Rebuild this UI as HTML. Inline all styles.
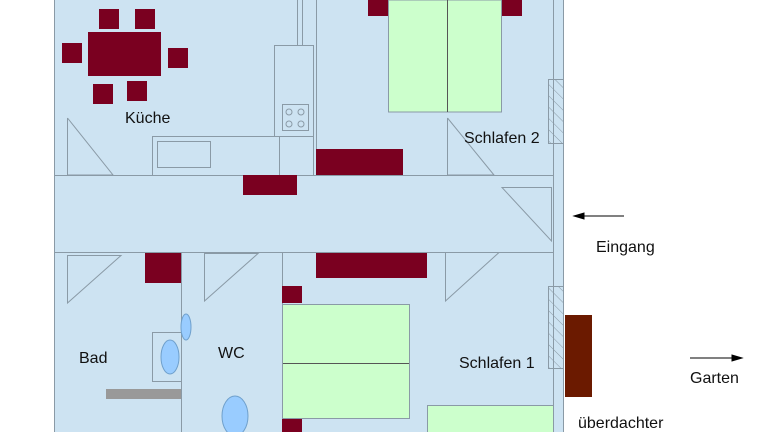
<!DOCTYPE html>
<html><head><style>body{margin:0;background:#fff}svg{display:block}</style></head><body>
<svg width="768" height="432" viewBox="0 0 768 432" xmlns="http://www.w3.org/2000/svg" font-family="Liberation Sans, sans-serif">
<defs><pattern id="h" width="8" height="8" patternUnits="userSpaceOnUse" patternTransform="rotate(-45)"><line x1="0" y1="0" x2="0" y2="8" stroke="#8a9aa6" stroke-width="1"/></pattern></defs>
<rect x="54" y="0" width="509" height="432" fill="#cde3f2"/>
<g stroke="#8a9aa6" stroke-width="1" fill="none">
<line x1="54.5" y1="0" x2="54.5" y2="432"/>
<line x1="553.5" y1="0" x2="553.5" y2="432"/>
<line x1="563.5" y1="0" x2="563.5" y2="432"/>
<line x1="54" y1="175.5" x2="553" y2="175.5"/>
<line x1="54" y1="252.5" x2="553" y2="252.5"/>
<line x1="316.5" y1="0" x2="316.5" y2="175"/>
<line x1="297.5" y1="0" x2="297.5" y2="45"/>
<line x1="302.5" y1="0" x2="302.5" y2="45"/>
<rect x="274.5" y="45.5" width="39" height="91"/>
<rect x="282.5" y="104.5" width="26" height="26"/>
<circle cx="289" cy="112" r="3"/><circle cx="301" cy="112" r="3"/><circle cx="289" cy="124" r="3"/><circle cx="301" cy="124" r="3"/>
<rect x="152.5" y="136.5" width="127" height="39"/>
<rect x="279.5" y="136.5" width="34" height="39"/>
<rect x="157.5" y="141.5" width="53" height="26"/>
<polyline points="67.5,118 67.5,175 113,175 67.5,118"/>
<polyline points="447.5,118 447.5,175 494,175 447.5,118"/>
<polygon points="502,187.5 551.5,187.5 551.5,241"/>
<line x1="181.5" y1="252" x2="181.5" y2="432"/>
<line x1="282.5" y1="252" x2="282.5" y2="432"/>
<polygon points="67.5,255.5 121,255.5 67.5,303"/>
<polygon points="204.5,253.5 258,253.5 204.5,301"/>
<polygon points="445.5,252.5 499,252.5 445.5,301"/>
<rect x="152.5" y="332.5" width="29" height="49"/>
</g>
<rect x="548.5" y="79.5" width="15" height="64" fill="url(#h)" stroke="#8a9aa6"/>
<rect x="548.5" y="286.5" width="15" height="82" fill="url(#h)" stroke="#8a9aa6"/>
<g fill="#7a0020">
<rect x="88" y="32" width="73" height="44"/>
<rect x="99" y="9" width="20" height="20"/><rect x="135" y="9" width="20" height="20"/>
<rect x="62" y="43" width="20" height="20"/><rect x="168" y="48" width="20" height="20"/>
<rect x="93" y="84" width="20" height="20"/><rect x="127" y="81" width="20" height="20"/>
<rect x="243" y="175" width="54" height="20"/>
<rect x="316" y="149" width="87" height="26"/>
<rect x="368" y="0" width="20" height="16"/><rect x="502" y="0" width="20" height="16"/>
<rect x="145" y="253" width="36" height="30"/>
<rect x="316" y="253" width="111" height="25"/>
<rect x="282" y="286" width="20" height="17"/><rect x="282" y="418" width="20" height="14"/>
</g>
<g fill="#ccffcc" stroke="#8a9aa6">
<rect x="388.5" y="0" width="113" height="112"/>
<rect x="282.5" y="304.5" width="127" height="114"/>
<rect x="427.5" y="405.5" width="126" height="30"/>
</g>
<line x1="447.5" y1="0" x2="447.5" y2="112" stroke="#555"/>
<line x1="283" y1="363.5" x2="409" y2="363.5" stroke="#555"/>
<g fill="#99ccff" stroke="#6fa0cc">
<ellipse cx="186" cy="327" rx="5" ry="13"/>
<ellipse cx="170" cy="357" rx="9" ry="17"/>
<ellipse cx="235" cy="416" rx="13" ry="20"/>
</g>
<rect x="106" y="389" width="75" height="10" fill="#999"/>
<rect x="565" y="315" width="27" height="82" fill="#6b1a00"/>
<g stroke="#000" fill="#000">
<line x1="582" y1="216" x2="624" y2="216"/><polygon points="574,216 584,213 584,219"/>
<line x1="690" y1="358" x2="734" y2="358"/><polygon points="742,358 732,355 732,361"/>
</g>
<g font-size="16" fill="#111">
<text x="125" y="123">Küche</text>
<text x="464" y="143">Schlafen 2</text>
<text x="79" y="363">Bad</text>
<text x="218" y="358">WC</text>
<text x="459" y="368">Schlafen 1</text>
<text x="596" y="252">Eingang</text>
<text x="690" y="383">Garten</text>
<text x="578" y="428">überdachter</text>
</g>
</svg>
</body></html>
